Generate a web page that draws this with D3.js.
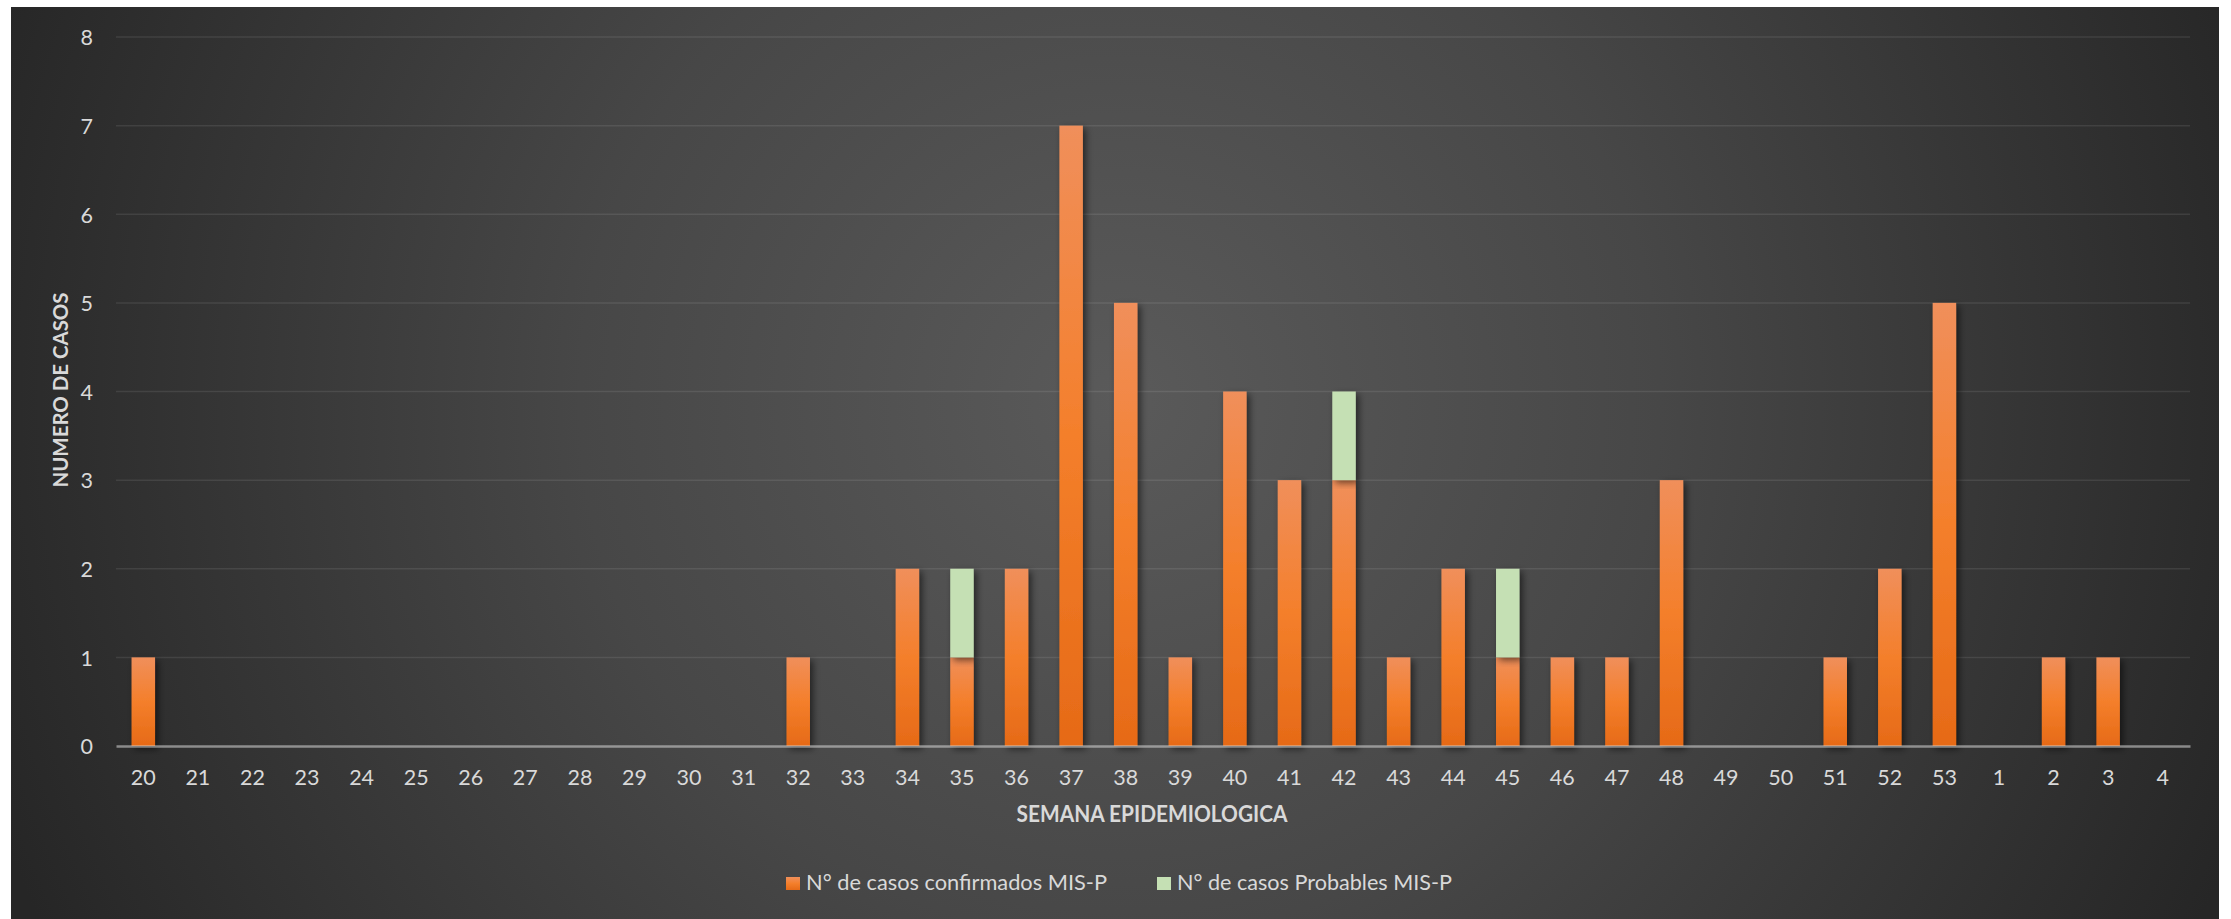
<!DOCTYPE html>
<html>
<head>
<meta charset="utf-8">
<script src="https://cdn.jsdelivr.net/npm/d3@7"></script>
<style>
  html, body { margin: 0; padding: 0; background: #ffffff; }
  svg { display: block; }
</style>
</head>
<body>
<svg id="chart" width="2231" height="919"></svg>
<script>
// ---- Data ----
const weeks = ["20","21","22","23","24","25","26","27","28","29","30","31","32","33","34","35","36","37","38","39","40","41","42","43","44","45","46","47","48","49","50","51","52","53","1","2","3","4"];
const confirmados = [1,0,0,0,0,0,0,0,0,0,0,0,1,0,2,1,2,7,5,1,4,3,3,1,2,1,1,1,3,0,0,1,2,5,0,1,1,0];
const probables   = [0,0,0,0,0,0,0,0,0,0,0,0,0,0,0,1,0,0,0,0,0,0,1,0,0,1,0,0,0,0,0,0,0,0,0,0,0,0];
const yTicks = [0,1,2,3,4,5,6,7,8];
const seriesNames = ["N° de casos confirmados MIS-P", "N° de casos Probables MIS-P"];
const yTitle = "NUMERO DE CASOS";
const xTitle = "SEMANA EPIDEMIOLOGICA";

const FONT = "Lato, 'Open Sans', sans-serif";
const svg = d3.select("#chart");
const defs = svg.append("defs");

// background radial gradient
const bg = defs.append("radialGradient").attr("id","bgGrad")
  .attr("gradientUnits","userSpaceOnUse").attr("cx",1120).attr("cy",400).attr("r",1200);
bg.append("stop").attr("offset","0").attr("stop-color","#5a5a5a");
bg.append("stop").attr("offset","0.45").attr("stop-color","#474747");
bg.append("stop").attr("offset","1").attr("stop-color","#262626");

const og = defs.append("linearGradient").attr("id","orangeGrad").attr("x1",0).attr("y1",0).attr("x2",0).attr("y2",1);
og.append("stop").attr("offset","0").attr("stop-color","#f08f5b");
og.append("stop").attr("offset","0.5").attr("stop-color","#f47f2b");
og.append("stop").attr("offset","1").attr("stop-color","#e66a17");

const sh = defs.append("filter").attr("id","shadow").attr("x","-50%").attr("y","-10%").attr("width","200%").attr("height","120%");
sh.append("feDropShadow").attr("dx",3).attr("dy",3).attr("stdDeviation",3.5)
  .attr("flood-color","#000").attr("flood-opacity",0.55);

// background
svg.append("rect").attr("x",11).attr("y",7).attr("width",2208).attr("height",912).attr("fill","url(#bgGrad)");

// scales
const x = d3.scaleBand().domain(weeks).range([116, 2190]).paddingInner(0.57).paddingOuter(0.285);
const y = d3.scaleLinear().domain([0, 8]).range([746, 37]);

// gridlines
svg.append("g").selectAll("line").data(yTicks.filter(d => d > 0)).join("line")
  .attr("x1",116).attr("x2",2190)
  .attr("y1",d => y(d)).attr("y2",d => y(d))
  .attr("stroke","rgba(255,255,255,0.09)").attr("stroke-width",1.5);

// stacked data
const table = weeks.map((w,i) => ({week:w, c:confirmados[i], p:probables[i]}));
const stack = d3.stack().keys(["c","p"])(table);
const fills = ["url(#orangeGrad)", "#c5e0b4"];

const barsG = svg.append("g");
stack.forEach((layer, li) => {
  barsG.append("g").selectAll("rect")
    .data(layer.filter(d => d[1] - d[0] > 0)).join("rect")
    .attr("x", d => x(d.data.week))
    .attr("width", x.bandwidth())
    .attr("y", d => y(d[1]))
    .attr("height", d => y(d[0]) - y(d[1]))
    .attr("fill", fills[li])
    .attr("filter","url(#shadow)");
});

// x axis
const xAxis = d3.axisBottom(x).tickSize(0).tickPadding(0);
const xg = svg.append("g").attr("transform","translate(0,746)").call(xAxis);
xg.select(".domain").attr("stroke","rgba(217,217,217,0.55)").attr("stroke-width",2.5);
xg.selectAll("text").attr("dy",null).attr("y",39)
  .attr("font-family",FONT).attr("font-size",21.5).attr("fill","#d9d9d9");

// y axis (labels only)
const yAxis = d3.axisLeft(y).tickValues(yTicks).tickSize(0).tickPadding(0);
const yg = svg.append("g").attr("transform","translate(93,0)").call(yAxis);
yg.select(".domain").remove();
yg.selectAll("text").attr("dy","0.36em")
  .attr("font-family",FONT).attr("font-size",21.5).attr("fill","#d9d9d9");

// axis titles
svg.append("text").attr("transform","translate(68,390) rotate(-90)")
  .attr("text-anchor","middle").attr("font-family",FONT).attr("font-weight","bold")
  .attr("font-size",21).attr("fill","#d9d9d9")
  .attr("textLength",195).attr("lengthAdjust","spacingAndGlyphs").text(yTitle);

svg.append("text").attr("x",1152).attr("y",822)
  .attr("text-anchor","middle").attr("font-family",FONT).attr("font-weight","bold")
  .attr("font-size",22).attr("fill","#d9d9d9")
  .attr("textLength",271).attr("lengthAdjust","spacingAndGlyphs").text(xTitle);

// legend
const legendItems = [
  {name: seriesNames[0], fill: "url(#orangeGrad)", sx: 786, tx: 806, tw: 301},
  {name: seriesNames[1], fill: "#c5e0b4", sx: 1157, tx: 1177, tw: 275}
];
const lg = svg.append("g");
legendItems.forEach(it => {
  lg.append("rect").attr("x",it.sx).attr("y",877).attr("width",14).attr("height",13).attr("fill",it.fill);
  lg.append("text").attr("x",it.tx).attr("y",890)
    .attr("font-family",FONT).attr("font-size",21).attr("fill","#d9d9d9")
    .attr("textLength",it.tw).attr("lengthAdjust","spacingAndGlyphs").text(it.name);
});
</script>
</body>
</html>
